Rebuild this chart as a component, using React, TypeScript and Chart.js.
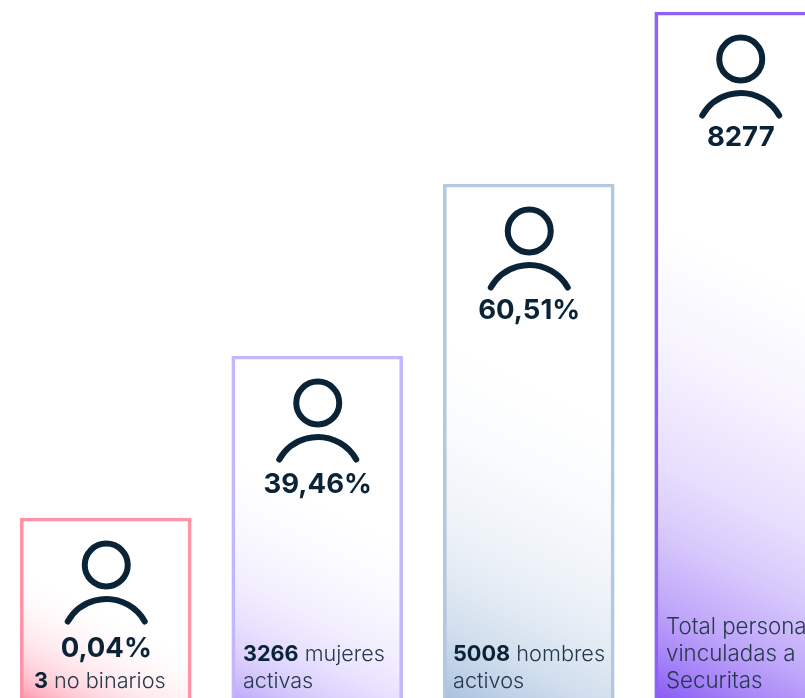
import React, { useEffect, useRef } from "react";
import { Chart, registerables } from "chart.js";

Chart.register(...registerables);

const categories = ["no binarios", "mujeres", "hombres", "total"];
const barLevels = [180, 342, 514, 686];
const headlines = ["0,04%", "39,46%", "60,51%", "8277"];
const headlineOffsets = [131, 129, 127, 126];
const notes: [string, string][][] = [
  [["3", " no binarios"]],
  [["3266", " mujeres"], ["", "activas"]],
  [["5008", " hombres"], ["", "activos"]],
  [["", "Total personas"], ["", "vinculadas a"], ["", "Securitas"]],
];
const noteX = [34, 243, 453, 666];
const noteSizes = [21.7, 21.6, 21.7, 22.3];
const borderColors = ["#ff94a9", "#c5b7fb", "#b2c9e0", "#8c62f7"];
const fillColors = ["255,150,172", "190,170,251", "170,194,222", "138,92,246"];
const fadeStops = [0, 0.1, 0.2, 0.35, 0.5, 0.75, 1];
const fadeAlphas = [1, 0.74, 0.54, 0.34, 0.2, 0.07, 0];
const INK = "#0b2336";
const FONT = "Inter";

const App = () => {
  const ref = useRef<HTMLCanvasElement>(null);
  useEffect(() => {
    document.body.style.margin = "0";
    const overlay = {
      id: "overlay",
      afterDatasetsDraw(chart: any) {
        const { ctx, scales } = chart;
        categories.forEach((_, i) => {
          const cx = scales.x.getPixelForValue(i);
          const top = scales.y.getPixelForValue(barLevels[i]);
          ctx.save();
          ctx.strokeStyle = INK;
          ctx.lineWidth = 6;
          ctx.lineCap = "round";
          ctx.beginPath();
          ctx.arc(cx + 0.5, top + 47, 21.5, 0, Math.PI * 2);
          ctx.stroke();
          const R = 44.2;
          const half = Math.asin(38.5 / R);
          ctx.beginPath();
          ctx.arc(cx + 0.5, top + 81 + R, R, -Math.PI / 2 - half, -Math.PI / 2 + half);
          ctx.stroke();
          ctx.fillStyle = INK;
          ctx.textAlign = "center";
          ctx.textBaseline = "middle";
          ctx.font = `700 27.5px ${FONT}`;
          ctx.fillText(headlines[i], cx + 0.5, top + headlineOffsets[i]);
          ctx.textAlign = "left";
          ctx.textBaseline = "alphabetic";
          const lines = notes[i];
          lines.forEach((ln, k) => {
            const y = 688 - (lines.length - 1 - k) * 27;
            let x = noteX[i];
            if (ln[0]) {
              ctx.font = `700 ${noteSizes[i]}px ${FONT}`;
              ctx.fillStyle = INK;
              ctx.fillText(ln[0], x, y);
              x += ctx.measureText(ln[0]).width;
            }
            ctx.font = `300 ${noteSizes[i]}px ${FONT}`;
            ctx.fillStyle = "#24394b";
            ctx.fillText(ln[1], x, y);
          });
          ctx.restore();
        });
      },
    };
    const chart = new Chart(ref.current!, {
      type: "bar",
      data: {
        labels: categories,
        datasets: [
          {
            data: barLevels,
            barThickness: 171,
            borderWidth: 3,
            borderSkipped: "bottom",
            borderColor: borderColors,
            backgroundColor: (c: any) => {
              const i = c.dataIndex;
              const { x, y } = c.chart.scales;
              if (!x || !y || i === undefined) return "#fff";
              const left = x.getPixelForValue(i) - 85;
              const bottom = y.getPixelForValue(0);
              const h = bottom - y.getPixelForValue(barLevels[i]);
              if (![left, bottom, h].every(Number.isFinite)) return "#fff";
              const dy = h * 0.56;
              const g = c.chart.ctx.createLinearGradient(left, bottom, left + 0.5 * dy, bottom - dy);
              const rgb = fillColors[i];
              fadeStops.forEach((s, k) => g.addColorStop(s, `rgba(${rgb},${fadeAlphas[k]})`));
              return g;
            },
          },
        ],
      },
      plugins: [overlay],
      options: {
        animation: false,
        responsive: false,
        layout: { padding: 0 },
        plugins: { legend: { display: false }, tooltip: { enabled: false } },
        scales: {
          x: { display: false },
          y: { display: false, min: 0, max: 698 },
        },
      },
    });
    return () => chart.destroy();
  }, []);
  return (
    <div style={{ width: 805, height: 698, overflow: "hidden" }}>
      <canvas ref={ref} width={846} height={698} style={{ display: "block" }} />
    </div>
  );
};

export default App;
